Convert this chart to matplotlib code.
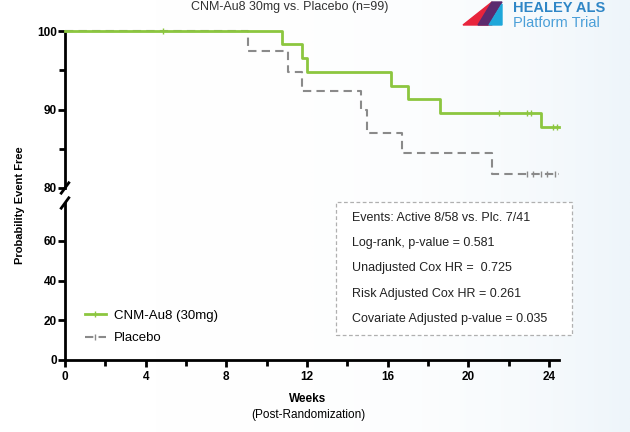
import numpy as np
import matplotlib.pyplot as plt
from matplotlib.patches import Polygon
from matplotlib.lines import Line2D
from matplotlib.colors import LinearSegmentedColormap

# Kaplan-Meier steps (weeks, % event free)
active_weeks = [0, 10.76, 11.75, 12.0, 16.15, 17.0, 18.6, 23.6, 24.5]
active_surv = [100, 98.3, 96.6, 94.8, 93.0, 91.3, 89.6, 87.8, 87.8]
active_cens_w = [4.85, 21.5, 22.9, 23.1, 24.2, 24.4]

placebo_weeks = [0, 9.1, 11.05, 11.75, 14.7, 15.0, 16.7, 21.2, 24.5]
placebo_surv = [100, 97.4, 94.8, 92.4, 90.0, 87.0, 84.5, 81.8, 81.8]
placebo_cens_w = [22.9, 23.2, 23.6, 23.9, 24.3]

stats_lines = ["Events: Active 8/58 vs. Plc. 7/41",
               "Log-rank, p-value = 0.581",
               "Unadjusted Cox HR =  0.725",
               "Risk Adjusted Cox HR = 0.261",
               "Covariate Adjusted p-value = 0.035"]

GREEN = '#8cc63f'
GREY = '#8a8a8a'

plt.rcParams['font.family'] = ['Liberation Sans', 'DejaVu Sans']

fig = plt.figure(figsize=(6.3, 4.32), dpi=100)

# faint bluish wash on the right side
bg = fig.add_axes([0, 0, 1, 1], zorder=-10)
grad = np.linspace(0, 1, 256) ** 4
bg.imshow(np.tile(grad, (10, 1)), cmap=LinearSegmentedColormap.from_list('w', ['#ffffff', '#eef5fa']),
          aspect='auto', extent=[0, 1, 0, 1])
bg.set_xlim(0, 1)
bg.set_ylim(0, 1)
bg.axis('off')

left, width = 65 / 630, 494 / 630
ax_top = fig.add_axes([left, (432 - 188) / 432, width, 157 / 432])
ax_bot = fig.add_axes([left, (432 - 360) / 432, width, 157 / 432])
ax_top.patch.set_alpha(0)
ax_bot.patch.set_alpha(0)

# curves only live in the 80-100 band
ax_top.step(active_weeks, active_surv, where='post', color=GREEN, lw=2, clip_on=False, zorder=4)
ax_top.step(placebo_weeks, placebo_surv, where='post', color=GREY, lw=1.5,
            dashes=(4, 2.5), clip_on=False, zorder=3)
sa = [active_surv[np.searchsorted(active_weeks, w, side='right') - 1] for w in active_cens_w]
sp = [placebo_surv[np.searchsorted(placebo_weeks, w, side='right') - 1] for w in placebo_cens_w]
ax_top.plot(active_cens_w, sa, '|', color=GREEN, ms=4, mew=1, clip_on=False, zorder=4)
ax_top.plot(placebo_cens_w, sp, '|', color=GREY, ms=4, mew=1, clip_on=False, zorder=3)

for ax in (ax_top, ax_bot):
    ax.set_xlim(0, 24.5)
    ax.spines['right'].set_visible(False)
    ax.spines['top'].set_visible(False)
    ax.spines['left'].set_linewidth(2)
    ax.tick_params(axis='y', width=2, length=5, labelsize=8.5, pad=1)

ax_top.set_ylim(80, 100)
ax_bot.set_ylim(0, 79)

ax_top.spines['bottom'].set_visible(False)
ax_top.set_xticks([])
ax_top.set_yticks([80, 90, 100])
ax_top.set_yticks([85, 95], minor=True)
ax_top.tick_params(axis='y', which='minor', width=2, length=4)
ax_top.set_yticklabels(['80', '90', '100'], fontweight='bold')

ax_bot.set_yticks([0, 20, 40, 60])
ax_bot.set_yticklabels(['0', '20', '40', '60'], fontweight='bold')
ax_bot.spines['bottom'].set_linewidth(2)
ax_bot.set_xticks(range(0, 25, 4))
ax_bot.set_xticks(range(2, 25, 4), minor=True)
ax_bot.set_xticklabels([str(v) for v in range(0, 25, 4)], fontweight='bold')
ax_bot.tick_params(axis='x', width=2, length=5, labelsize=8.5, pad=3)
ax_bot.tick_params(axis='x', which='minor', width=2, length=4)

# break marks on the y axis
for yb in [(432 - 188) / 432, (432 - 203) / 432]:
    fig.add_artist(Line2D([left - 0.006, left + 0.006], [yb - 0.012, yb + 0.012],
                          color='black', lw=2))

fig.text(20 / 630, 1 - 205 / 432, 'Probability Event Free', rotation=90, ha='center',
         va='center', fontsize=8, fontweight='bold')
fig.text(308 / 630, 1 - 399 / 432, 'Weeks', ha='center', va='center', fontsize=8.5,
         fontweight='bold')
fig.text(308 / 630, 1 - 415 / 432, '(Post-Randomization)', ha='center', va='center',
         fontsize=8.5)
fig.text(290 / 630, 1 - 7 / 432, 'CNM-Au8 30mg vs. Placebo (n=99)', ha='center',
         va='center', fontsize=9, color='#333333')

# legend
leg_handles = [Line2D([], [], color=GREEN, lw=2, marker='|', ms=4),
               Line2D([], [], color=GREY, lw=1.5, dashes=(4, 2.5), marker='|', ms=4)]
ax_bot.legend(leg_handles, ['CNM-Au8 (30mg)', 'Placebo'], loc='center left',
              bbox_to_anchor=(8 / 494, 1 - (327 - 203) / 157), frameon=False,
              fontsize=9.5, handlelength=1.6, labelspacing=0.75, handletextpad=0.6)

# stats box
bx0, bx1, by0, by1 = 336, 572, 202, 335
fig.add_artist(plt.Rectangle((bx0 / 630, 1 - by1 / 432), (bx1 - bx0) / 630, (by1 - by0) / 432,
                             fill=True, facecolor='white', edgecolor='#b0b0b0', lw=0.9,
                             ls=(0, (3, 2)), zorder=5))
for i, s in enumerate(stats_lines):
    fig.text(352 / 630, 1 - (218 + 25.2 * i) / 432, s, ha='left', va='center',
             fontsize=9, color='#222222', zorder=6)

# logo
fig.add_artist(Polygon([(463 / 630, 1 - 25 / 432), (492 / 630, 1 - 2 / 432),
                        (492 / 630, 1 - 25 / 432)], closed=True, color='#e8243c'))
fig.add_artist(Polygon([(478 / 630, 1 - 25 / 432), (492 / 630, 1 - 2 / 432),
                        (502 / 630, 1 - 2 / 432), (488 / 630, 1 - 25 / 432)], closed=True,
                       color='#5b2a6e'))
fig.add_artist(Polygon([(489 / 630, 1 - 25 / 432), (502 / 630, 1 - 4 / 432),
                        (502 / 630, 1 - 25 / 432)], closed=True, color='#1ea7da'))
fig.text(513 / 630, 1 - 8 / 432, 'HEALEY ALS', ha='left', va='center', fontsize=10.5,
         fontweight='bold', color='#2f86c6')
fig.text(513 / 630, 1 - 23 / 432, 'Platform Trial', ha='left', va='center', fontsize=10.5,
         color='#4a9fd8')

fig.savefig('out.png', dpi=100)
